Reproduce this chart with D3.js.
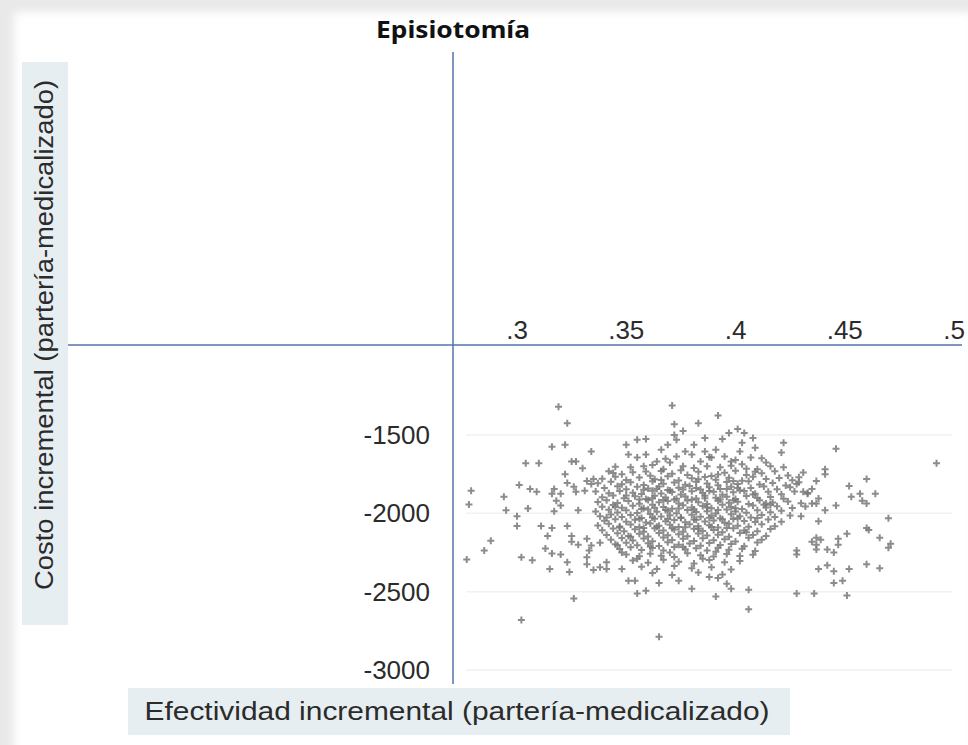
<!DOCTYPE html>
<html>
<head>
<meta charset="utf-8">
<script src="https://cdn.jsdelivr.net/npm/d3@7"></script>
<style>
  body { margin: 0; background: #e9e9e9; }
  svg { display: block; }
</style>
</head>
<body>
<div id="chart"></div>
<script>
// tick labels
var xTicks = [0.3, 0.35, 0.4, 0.45, 0.5];
var xTickLabels = [".3", ".35", ".4", ".45", ".5"];
var yTicks = [-1500, -2000, -2500, -3000];

// scattered simulations, outer part of the cloud [effect, cost]
var outerPoints = [
    [.319,-1319],[.323,-1425],[.316,-1575],[.322,-1562],[.334,-1606],[.304,-1681],[.310,-1681],
    [.325,-1669],[.327,-1669],[.330,-1712],[.322,-1750],[.301,-1819],[.306,-1844],[.309,-1862],
    [.279,-1856],[.294,-1894],[.278,-1944],[.317,-1844],[.316,-1875],[.320,-1875],[.318,-1919],
    [.320,-1950],[.323,-1806],[.326,-1831],[.327,-1862],[.331,-1856],[.332,-1794],[.334,-1812],
    [.335,-1781],[.295,-1981],[.300,-2019],[.305,-1969],[.317,-1987],[.328,-1981],[.300,-2081],
    [.311,-2081],[.316,-2094],[.323,-2081],[.288,-2175],[.285,-2237],[.277,-2294],[.314,-2144],
    [.325,-2144],[.325,-2181],[.328,-2200],[.332,-2162],[.334,-2206],[.338,-2187],[.313,-2225],
    [.316,-2256],[.320,-2262],[.302,-2281],[.307,-2300],[.323,-2312],[.324,-2375],[.315,-2356],
    [.332,-2281],[.332,-2325],[.335,-2362],[.338,-2344],[.341,-2356],[.341,-2312],[.333,-2237],
    [.326,-2544],[.302,-2681],[.348,-2356],[.348,-2250],
    [.355,-2512],[.359,-2494],[.365,-2787],[.380,-2481],[.391,-2531],[.406,-2488],[.406,-2612],
    [.351,-2431],[.354,-2431],[.365,-2444],[.374,-2431],[.388,-2406],[.392,-2412],[.396,-2450],
    [.398,-2481],
    [.371,-1312],[.392,-1375],[.372,-1431],[.383,-1425],[.376,-1475],[.401,-1462],[.404,-1487],
    [.397,-1487],[.355,-1531],[.359,-1525],[.372,-1500],[.373,-1531],[.386,-1519],[.394,-1525],
    [.408,-1519],[.422,-1550],[.350,-1562],[.369,-1562],[.381,-1562],[.403,-1550],[.409,-1581],
    [.366,-1594],[.377,-1606],[.386,-1606],[.391,-1594],[.402,-1606],[.421,-1612],[.351,-1625],
    [.355,-1644],[.359,-1625],[.373,-1637],[.380,-1625],[.389,-1644],[.395,-1637],[.398,-1669],
    [.407,-1644],[.364,-1669],[.370,-1675],[.384,-1669],[.403,-1687],[.414,-1675],[.352,-1706],
    [.358,-1700],[.367,-1719],[.376,-1700],[.387,-1700],[.393,-1706],[.410,-1719],[.416,-1700],
    [.446,-1587],[.492,-1681],[.441,-1719],[.441,-1750],[.437,-1794],[.429,-1769],[.428,-1812],
    [.460,-1781],[.452,-1825],[.464,-1875],[.435,-1844],[.431,-1862],[.433,-1875],[.453,-1894],
    [.457,-1875],[.458,-1919],[.460,-1937],[.438,-1906],[.437,-1937],[.435,-1937],[.432,-1956],
    [.441,-1981],[.446,-1950],[.470,-2031],[.430,-2019],[.438,-2050],[.460,-2094],[.461,-2106],
    [.451,-2131],[.466,-2156],[.471,-2194],[.470,-2219],[.447,-2162],[.447,-2200],[.437,-2156],
    [.439,-2169],[.435,-2181],[.437,-2200],[.437,-2231],[.442,-2231],[.445,-2250],[.428,-2237],
    [.428,-2262],[.460,-2325],[.466,-2350],[.452,-2356],[.442,-2331],[.438,-2356],[.445,-2369],
    [.445,-2444],[.449,-2431],[.428,-2512],[.436,-2512],[.451,-2525]
];

// dense centre of the cloud [effect, cost]
var corePoints = [
    [.342,-1732],[.348,-1751],[.353,-1738],[.361,-1760],[.366,-1729],[.371,-1747],[.378,-1756],[.383,-1735],
    [.389,-1762],[.395,-1741],[.400,-1728],[.405,-1755],[.412,-1744],[.418,-1731],[.424,-1758],[.431,-1739],
    [.339,-1779],[.345,-1766],[.350,-1788],[.356,-1771],[.363,-1783],[.369,-1764],[.374,-1790],[.380,-1776],
    [.386,-1768],[.391,-1785],[.397,-1773],[.403,-1792],[.408,-1767],[.414,-1781],[.420,-1774],[.426,-1789],
    [.337,-1808],[.343,-1799],[.348,-1814],[.352,-1802],[.358,-1819],[.362,-1796],[.367,-1811],[.372,-1803],
    [.377,-1817],[.382,-1798],[.387,-1809],[.392,-1821],[.396,-1800],[.401,-1813],[.406,-1795],[.411,-1816],
    [.417,-1806],[.423,-1822],[.429,-1801],
    [.340,-1838],[.346,-1827],[.350,-1846],[.355,-1831],[.360,-1842],[.365,-1829],[.369,-1851],[.374,-1836],
    [.379,-1826],[.384,-1848],[.388,-1833],[.393,-1844],[.398,-1830],[.402,-1852],[.407,-1839],[.413,-1828],
    [.419,-1847],[.425,-1834],
    [.336,-1861],[.342,-1872],[.347,-1858],[.353,-1869],[.357,-1877],[.362,-1856],[.366,-1873],[.371,-1864],
    [.375,-1879],[.380,-1859],[.385,-1870],[.390,-1862],[.394,-1881],[.399,-1866],[.404,-1857],[.409,-1875],
    [.415,-1863],[.421,-1878],[.427,-1860],[.433,-1871],
    [.339,-1897],[.344,-1886],[.349,-1903],[.354,-1891],[.359,-1908],[.363,-1888],[.368,-1899],[.372,-1911],
    [.377,-1893],[.382,-1905],[.386,-1887],[.391,-1901],[.396,-1894],[.400,-1909],[.405,-1889],[.410,-1902],
    [.416,-1896],[.422,-1907],
    [.337,-1928],[.341,-1917],[.346,-1934],[.351,-1921],[.356,-1939],[.360,-1915],[.365,-1930],[.369,-1922],
    [.374,-1937],[.378,-1918],[.383,-1929],[.387,-1941],[.392,-1920],[.397,-1933],[.401,-1926],[.406,-1940],
    [.411,-1916],[.417,-1931],[.424,-1924],[.430,-1936],
    [.339,-1958],[.344,-1947],[.348,-1964],[.353,-1951],[.358,-1968],[.362,-1945],[.367,-1959],[.371,-1971],
    [.376,-1949],[.380,-1962],[.385,-1953],[.389,-1967],[.394,-1946],[.398,-1960],[.403,-1972],[.408,-1950],
    [.414,-1963],[.419,-1955],[.426,-1966],
    [.336,-1988],[.342,-1977],[.346,-1994],[.350,-1981],[.355,-1998],[.360,-1975],[.364,-1990],[.369,-1983],
    [.373,-1999],[.378,-1979],[.382,-1992],[.387,-1986],[.391,-2001],[.396,-1976],[.400,-1989],[.405,-1996],
    [.410,-1980],[.416,-1993],[.421,-1984],
    [.338,-2018],[.343,-2007],[.348,-2024],[.352,-2011],[.357,-2029],[.361,-2005],[.366,-2020],[.370,-2013],
    [.375,-2027],[.380,-2009],[.384,-2022],[.389,-2016],[.393,-2031],[.398,-2006],[.402,-2019],[.407,-2026],
    [.412,-2010],[.418,-2023],[.425,-2014],
    [.340,-2048],[.345,-2037],[.350,-2054],[.354,-2041],[.359,-2058],[.363,-2035],[.368,-2050],[.372,-2043],
    [.377,-2057],[.381,-2039],[.386,-2052],[.390,-2046],[.395,-2060],[.399,-2036],[.404,-2049],[.409,-2055],
    [.415,-2040],[.421,-2053],
    [.337,-2078],[.342,-2067],[.347,-2084],[.352,-2071],[.356,-2088],[.361,-2065],[.365,-2080],[.370,-2073],
    [.374,-2087],[.379,-2069],[.383,-2082],[.388,-2076],[.392,-2090],[.397,-2066],[.401,-2079],[.406,-2085],
    [.412,-2070],[.418,-2083],
    [.339,-2108],[.344,-2097],[.349,-2114],[.354,-2101],[.358,-2118],[.363,-2095],[.367,-2110],[.372,-2103],
    [.376,-2117],[.381,-2099],[.385,-2112],[.390,-2106],[.394,-2120],[.399,-2096],[.404,-2109],[.410,-2115],
    [.416,-2100],
    [.341,-2138],[.346,-2127],[.351,-2144],[.356,-2131],[.360,-2148],[.365,-2125],[.369,-2140],[.374,-2133],
    [.378,-2147],[.383,-2129],[.387,-2142],[.392,-2136],[.397,-2150],[.402,-2126],[.408,-2139],[.414,-2145],
    [.343,-2168],[.348,-2157],[.353,-2174],[.358,-2161],[.362,-2178],[.367,-2155],[.371,-2170],[.376,-2163],
    [.381,-2177],[.385,-2159],[.390,-2172],[.395,-2166],[.400,-2180],[.406,-2156],[.412,-2169],
    [.345,-2198],[.350,-2187],[.355,-2204],[.360,-2191],[.365,-2208],[.369,-2185],[.374,-2200],[.379,-2193],
    [.384,-2207],[.388,-2189],[.393,-2202],[.398,-2196],[.404,-2210],[.410,-2186],
    [.347,-2228],[.352,-2217],[.357,-2234],[.362,-2221],[.367,-2238],[.372,-2215],[.377,-2230],[.382,-2223],
    [.387,-2237],[.392,-2219],[.397,-2232],[.403,-2226],[.409,-2240],
    [.350,-2262],[.356,-2274],[.361,-2258],[.366,-2270],[.372,-2279],[.378,-2255],[.384,-2268],[.390,-2276],
    [.396,-2260],[.402,-2272],[.408,-2264],
    [.353,-2301],[.360,-2315],[.367,-2296],[.374,-2309],[.381,-2320],[.388,-2298],[.395,-2312],[.402,-2305],
    [.357,-2341],[.364,-2355],[.372,-2336],[.380,-2350],[.389,-2344],[.398,-2358],
    [.362,-2381],[.371,-2394],[.383,-2377],[.394,-2390],
    [.345,-1702],[.362,-1691],[.381,-1710],[.398,-1697],[.405,-1715],[.422,-1706],
    [.368,-1652],[.388,-1641],[.400,-1660],[.412,-1648]
];

// extra points where the cloud is thickest
var centrePoints = [
    [.358,-1850],[.364,-1843],[.370,-1855],[.376,-1848],[.382,-1839],[.388,-1857],[.396,-1845],[.401,-1838],
    [.356,-1912],[.362,-1904],[.367,-1915],[.373,-1907],[.380,-1913],[.386,-1903],[.393,-1912],[.399,-1917],
    [.357,-1972],[.363,-1965],[.368,-1978],[.374,-1969],[.381,-1975],[.387,-1963],[.392,-1979],[.400,-1967],
    [.356,-2034],[.362,-2027],[.369,-2036],[.375,-2030],[.382,-2041],[.388,-2028],[.394,-2038],[.401,-2032],
    [.358,-2093],[.364,-2086],[.371,-2096],[.377,-2089],[.383,-2098],[.389,-2087],[.396,-2094],
    [.350,-1886],[.345,-1960],[.341,-2026],[.347,-2090],[.352,-2150],[.408,-1880],[.413,-1945],[.410,-2030],
    [.405,-2120],[.414,-1937],[.416,-1946],
    [.344,-1742],[.359,-1733],[.375,-1725],[.392,-1752],[.409,-1735],[.366,-1788],[.383,-1782],[.399,-1794],
    [.346,-2204],[.361,-2212],[.376,-2215],[.391,-2245],[.370,-2250],[.355,-2290],[.385,-2290]
];

var W = 968, H = 745;

var svg = d3.select("#chart").append("svg")
    .attr("width", W)
    .attr("height", H);

// soft white sheet on the grey page
var defs = svg.append("defs");
defs.append("filter").attr("id", "soft")
    .append("feGaussianBlur").attr("stdDeviation", 4);
defs.append("filter").attr("id", "fuzz")
    .append("feGaussianBlur").attr("stdDeviation", 0.45);

svg.append("rect")
    .attr("x", 14).attr("y", 12)
    .attr("width", 960).attr("height", 745)
    .attr("fill", "#ffffff")
    .attr("filter", "url(#soft)");

var x = d3.scaleLinear().domain([0.3, 0.5]).range([517, 954]);
var y = d3.scaleLinear().domain([-1500, -3000]).range([435, 670]);

var axisColor = "#5573a8";
var textColor = "#2b2b2b";

// faint gridlines
svg.selectAll(".grid")
    .data(yTicks)
    .enter().append("line")
    .attr("class", "grid")
    .attr("x1", 466).attr("x2", 952)
    .attr("y1", function (d) { return y(d); })
    .attr("y2", function (d) { return y(d); })
    .attr("stroke", "#f1f1f1")
    .attr("stroke-width", 1.5);

// title
svg.append("text")
    .attr("x", 453).attr("y", 38)
    .attr("text-anchor", "middle")
    .attr("font-family", "'Noto Sans', sans-serif")
    .attr("font-weight", "bold")
    .attr("font-size", 23)
    .attr("fill", "#111")
    .attr("textLength", 154)
    .attr("lengthAdjust", "spacingAndGlyphs")
    .text("Episiotomía");

// x tick labels above the zero line
svg.selectAll(".xtick")
    .data(xTicks)
    .enter().append("text")
    .attr("class", "xtick")
    .attr("x", function (d) { return x(d); })
    .attr("y", 339)
    .attr("text-anchor", "middle")
    .attr("font-family", "'Liberation Sans', Arial, sans-serif")
    .attr("font-size", 26)
    .attr("fill", textColor)
    .text(function (d, i) { return xTickLabels[i]; });

// y tick labels left of the zero line
svg.selectAll(".ytick")
    .data(yTicks)
    .enter().append("text")
    .attr("class", "ytick")
    .attr("x", 430)
    .attr("y", function (d) { return y(d); })
    .attr("dy", "0.35em")
    .attr("text-anchor", "end")
    .attr("font-family", "'Liberation Sans', Arial, sans-serif")
    .attr("font-size", 26)
    .attr("fill", textColor)
    .text(function (d) { return d; });

// points
var allPoints = outerPoints.concat(corePoints, centrePoints);
svg.append("g")
    .attr("filter", "url(#fuzz)")
    .selectAll("path")
    .data(allPoints)
    .enter().append("path")
    .attr("transform", function (d) { return "translate(" + x(d[0]) + "," + y(d[1]) + ")"; })
    .attr("d", "M-3.5,0H3.5M0,-3.5V3.5")
    .attr("stroke", "#787878")
    .attr("stroke-width", 2)
    .attr("stroke-opacity", 0.85);

// axes crossing lines
svg.append("line")
    .attr("x1", 453).attr("x2", 453)
    .attr("y1", 52).attr("y2", 684)
    .attr("stroke", axisColor).attr("stroke-width", 1.5);
svg.append("line")
    .attr("x1", 68).attr("x2", 962)
    .attr("y1", 345).attr("y2", 345)
    .attr("stroke", axisColor).attr("stroke-width", 1.5);

// y axis title box
svg.append("rect")
    .attr("x", 22).attr("y", 62)
    .attr("width", 46).attr("height", 563)
    .attr("fill", "#e7eef1");
svg.append("text")
    .attr("transform", "translate(53,335) rotate(-90)")
    .attr("text-anchor", "middle")
    .attr("font-family", "'Liberation Sans', Arial, sans-serif")
    .attr("font-size", 25)
    .attr("fill", textColor)
    .attr("textLength", 510)
    .attr("lengthAdjust", "spacingAndGlyphs")
    .text("Costo incremental (partería-medicalizado)");

// x axis title box
svg.append("rect")
    .attr("x", 128).attr("y", 688)
    .attr("width", 662).attr("height", 47)
    .attr("fill", "#e7eef1");
svg.append("text")
    .attr("x", 457).attr("y", 720)
    .attr("text-anchor", "middle")
    .attr("font-family", "'Liberation Sans', Arial, sans-serif")
    .attr("font-size", 25)
    .attr("fill", textColor)
    .attr("textLength", 625)
    .attr("lengthAdjust", "spacingAndGlyphs")
    .text("Efectividad incremental (partería-medicalizado)");
</script>
</body>
</html>
